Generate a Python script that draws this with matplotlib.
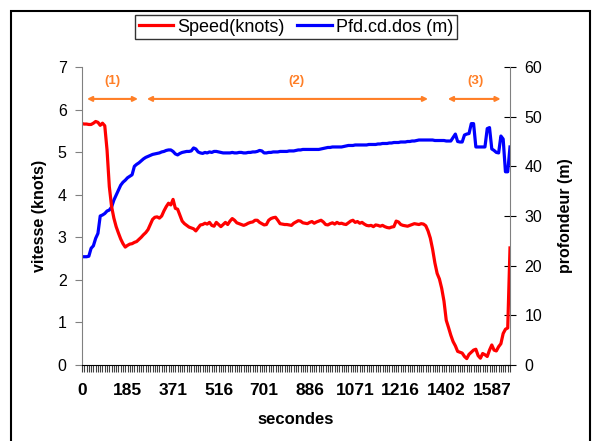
import matplotlib
matplotlib.use("Agg")
import matplotlib.pyplot as plt
from matplotlib.patches import Rectangle

plt.rcParams['font.family'] = ['Liberation Sans', 'DejaVu Sans']

# category labels shown every 20 samples (seconds)
tick_times = [0, 185, 371, 516, 701, 886, 1071, 1216, 1402, 1587]
label_step = 20

speed = [5.67, 5.66, 5.66, 5.65, 5.65, 5.68, 5.72, 5.70, 5.63, 5.68,
         5.62, 5.05, 4.19, 3.72, 3.45, 3.25, 3.10, 2.96, 2.85, 2.77,
         2.81, 2.84, 2.85, 2.88, 2.90, 2.95, 3.00, 3.06, 3.11, 3.18,
         3.30, 3.42, 3.47, 3.48, 3.45, 3.50, 3.62, 3.72, 3.80, 3.76,
         3.89, 3.68, 3.66, 3.52, 3.38, 3.32, 3.28, 3.24, 3.22, 3.20,
         3.15, 3.22, 3.29, 3.30, 3.33, 3.31, 3.35, 3.28, 3.26, 3.35,
         3.30, 3.25, 3.30, 3.35, 3.30, 3.38, 3.44, 3.40, 3.34, 3.32,
         3.30, 3.28, 3.30, 3.33, 3.35, 3.36, 3.40, 3.40, 3.35, 3.32,
         3.29, 3.30, 3.40, 3.44, 3.46, 3.47, 3.40, 3.32, 3.31, 3.30,
         3.30, 3.29, 3.28, 3.33, 3.36, 3.39, 3.38, 3.34, 3.33, 3.32,
         3.35, 3.37, 3.33, 3.36, 3.38, 3.40, 3.36, 3.30, 3.29, 3.32,
         3.34, 3.31, 3.35, 3.32, 3.33, 3.31, 3.30, 3.34, 3.38, 3.40,
         3.35, 3.37, 3.33, 3.35, 3.31, 3.28, 3.27, 3.28, 3.25, 3.29,
         3.28, 3.26, 3.28, 3.25, 3.23, 3.22, 3.24, 3.25, 3.38, 3.36,
         3.30, 3.28, 3.27, 3.26, 3.28, 3.30, 3.32, 3.31, 3.30, 3.32,
         3.31, 3.27, 3.15, 2.98, 2.72, 2.40, 2.15, 2.02, 1.80, 1.50,
         1.05, 0.88, 0.70, 0.55, 0.45, 0.32, 0.30, 0.28, 0.20, 0.15,
         0.25, 0.30, 0.35, 0.37, 0.22, 0.16, 0.27, 0.24, 0.20, 0.35,
         0.47, 0.35, 0.33, 0.43, 0.50, 0.74, 0.84, 0.87, 2.75]

depth = [21.8, 21.8, 21.8, 21.9, 23.5, 24.0, 25.5, 26.5, 30.0, 30.2,
         30.5, 31.0, 31.2, 31.8, 33.2, 34.2, 35.2, 36.2, 36.8, 37.2,
         37.7, 38.0, 38.3, 40.0, 40.4, 40.7, 41.1, 41.5, 41.8, 42.0,
         42.2, 42.4, 42.5, 42.6, 42.7, 42.9, 43.0, 43.2, 43.3, 43.3,
         43.0, 42.5, 42.3, 42.6, 42.8, 42.9, 43.0, 43.0, 43.1, 43.7,
         43.5, 42.9, 42.7, 42.6, 42.8, 42.7, 42.9, 42.8, 43.0, 43.0,
         42.9, 42.8, 42.7, 42.7, 42.7, 42.7, 42.8, 42.7, 42.7, 42.8,
         42.8, 42.7, 42.7, 42.8, 42.8, 42.9, 42.9, 43.0, 43.2, 43.1,
         42.7, 42.7, 42.8, 42.8, 42.9, 42.9, 42.9, 43.0, 43.0, 43.0,
         43.0, 43.1, 43.1, 43.1, 43.2, 43.3, 43.3, 43.4, 43.4, 43.4,
         43.4, 43.4, 43.4, 43.4, 43.4, 43.5, 43.6, 43.7, 43.8, 43.8,
         43.9, 43.9, 43.9, 43.9, 43.9, 44.0, 44.1, 44.2, 44.2, 44.2,
         44.3, 44.3, 44.3, 44.3, 44.3, 44.3, 44.4, 44.4, 44.4, 44.4,
         44.5, 44.5, 44.6, 44.6, 44.6, 44.7, 44.7, 44.8, 44.8, 44.8,
         44.9, 44.9, 44.9, 45.0, 45.0, 45.1, 45.1, 45.2, 45.3, 45.3,
         45.3, 45.3, 45.3, 45.3, 45.3, 45.2, 45.2, 45.2, 45.2, 45.2,
         45.1, 45.1, 45.1, 45.8, 46.5, 45.0, 44.9, 44.9, 46.3, 46.5,
         46.6, 48.6, 48.6, 43.9, 43.9, 43.9, 43.9, 43.9, 47.6, 47.8,
         43.5, 43.2, 42.8, 42.7, 46.1, 45.5, 38.9, 38.9, 43.9]

idx = list(range(len(speed)))
orange = '#FF7F27'
grey = '#808080'

fig = plt.figure(figsize=(5.92, 4.41), dpi=100)
ax = fig.add_axes([82/592, 1-365/441, 428/592, 298/441])
ax2 = ax.twinx()

l1, = ax.plot(idx, speed, color='#FF0000', lw=2.3, label='Speed(knots)')
l2, = ax2.plot(idx, depth, color='#0000FF', lw=2.3, label='Pfd.cd.dos (m)')
ax.set_zorder(ax2.get_zorder() + 1)
ax.patch.set_visible(False)

ax.set_xlim(0, len(speed) - 1)
ax.set_ylim(0, 7)
ax2.set_ylim(0, 60)
ax.set_yticks(range(0, 8))
ax2.set_yticks(range(0, 61, 10))

ax.set_xticks(range(0, len(speed), label_step))
ax.set_xticklabels([str(t) for t in tick_times], fontweight='bold', fontsize=12.5)
ax.set_xticks(idx, minor=True)
ax.tick_params(axis='x', which='both', length=5, width=0.8, color='#404040', pad=8)

ax.tick_params(axis='y', length=5, color=grey, labelsize=11.5, pad=6)
ax2.tick_params(axis='y', direction='inout', length=9, color='black', labelsize=11.5, pad=6)

for a in (ax, ax2):
    a.spines['top'].set_visible(False)
ax.spines['left'].set_color(grey)
ax2.spines['left'].set_visible(False)
ax2.spines['right'].set_color(grey)
ax2.spines['bottom'].set_visible(False)
ax.spines['right'].set_visible(False)

ax.set_ylabel('vitesse (knots)', fontweight='bold', fontsize=11.5, labelpad=8)
ax2.set_ylabel('profondeur (m)', fontweight='bold', fontsize=11.5, labelpad=11)
ax.set_xlabel('secondes', fontweight='bold', fontsize=12, labelpad=10)

# phase annotations
phases = [(2.2, 24.6, 13.2, '(1)'), (28.5, 152, 94, '(2)'), (160.7, 183.9, 173, '(3)')]
for x0, x1, xt, txt in phases:
    ax.annotate('', xy=(x0, 6.25), xytext=(x1, 6.25),
                arrowprops=dict(arrowstyle='<|-|>', color=orange, lw=1.5,
                                mutation_scale=7, shrinkA=0, shrinkB=0))
    ax.text(xt, 6.68, txt, color=orange, fontsize=9.5, fontweight='bold', ha='center', va='center')

fig.legend([l1, l2], ['Speed(knots)', 'Pfd.cd.dos (m)'], loc='center',
           bbox_to_anchor=(0.5, 1-27/441), ncol=2, fontsize=13, frameon=True,
           fancybox=False, edgecolor='black', handlelength=1.9, handletextpad=0.25,
           columnspacing=0.7, borderpad=0.2, borderaxespad=0)

fig.patches.append(Rectangle((11/592, -0.05), 579/592, 1.025, transform=fig.transFigure,
                             fill=False, edgecolor='black', lw=1.5))

fig.savefig('out.png', dpi=100)
